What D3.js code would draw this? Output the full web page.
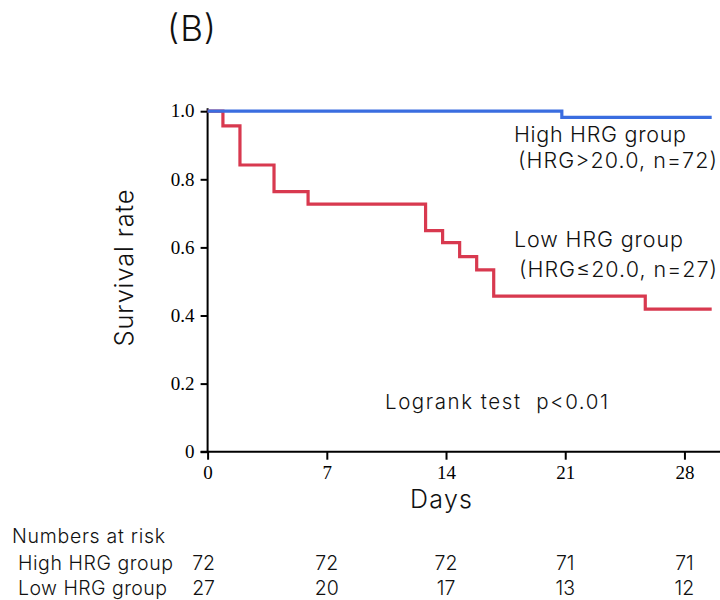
<!DOCTYPE html>
<html>
<head>
<meta charset="utf-8">
<script src="https://cdn.jsdelivr.net/npm/d3@7/dist/d3.min.js"></script>
<style>
  html, body { margin: 0; padding: 0; background: #fff; }
  svg { display: block; }
  .sans { font-family: Inter, "Open Sans", "Noto Sans", sans-serif; font-weight: 300; white-space: pre; }
  .serif { font-family: "Liberation Serif", "DejaVu Serif", serif; }
</style>
</head>
<body>
<script>
// ---- data ----
const xTicks = [0, 7, 14, 21, 28];
const yTicks = [0, 0.2, 0.4, 0.6, 0.8, 1.0];
const endDay = 29.6;

const highTimes = [0, 20.8];
const highSurv = [1.0, 0.982];

const lowTimes = [0, 0.9, 1.9, 3.9, 5.9, 12.8, 13.8, 14.8, 15.8, 16.8, 25.7];
const lowSurv = [1.0, 0.957, 0.842, 0.764, 0.727, 0.649, 0.614, 0.573, 0.534, 0.457, 0.419];

const riskDays = [0, 7, 14, 21, 28];
const riskGroups = ["High HRG group", "Low HRG group"];
const riskHigh = [72, 72, 72, 71, 71];
const riskLow = [27, 20, 17, 13, 12];

// ---- layout ----
const W = 720, H = 600;
const svg = d3.select("body").append("svg").attr("width", W).attr("height", H);

const x = d3.scaleLinear().domain([0, 30]).range([207.6, 718.5]);
const y = d3.scaleLinear().domain([0, 1]).range([451.7, 111.2]);

const red = "#d8394f", blue = "#3a6de0";

// axes
const yAxis = d3.axisLeft(y).tickValues(yTicks).tickSize(7).tickPadding(6)
  .tickFormat(d => d === 0 ? "0" : d.toFixed(1));
const gy = svg.append("g").attr("transform", `translate(${x(0)},0)`).call(yAxis);
gy.select(".domain").remove();
gy.selectAll(".tick line").attr("stroke", "#000").attr("stroke-width", 2);
gy.selectAll(".tick text").attr("class", "serif").attr("font-size", 19).attr("fill", "#000")
  .attr("dy", "0.3em");

const xAxis = d3.axisBottom(x).tickValues(xTicks).tickSize(8).tickPadding(4);
const gx = svg.append("g").attr("transform", `translate(0,${y(0)})`).call(xAxis);
gx.select(".domain").remove();
gx.selectAll(".tick line").attr("stroke", "#000").attr("stroke-width", 2);
gx.selectAll(".tick text").attr("class", "serif").attr("font-size", 19).attr("fill", "#000")
  .attr("dy", "0.78em");

// axis lines
svg.append("line").attr("x1", x(0)).attr("x2", x(0)).attr("y1", y(1) - 3).attr("y2", y(0))
  .attr("stroke", "#000").attr("stroke-width", 2);
svg.append("line").attr("x1", x(0) - 7).attr("x2", W).attr("y1", y(0)).attr("y2", y(0))
  .attr("stroke", "#000").attr("stroke-width", 2);

// curves
const line = d3.line().x(d => x(d[0])).y(d => y(d[1])).curve(d3.curveStepAfter);
function pts(times, surv) {
  const p = times.map((t, i) => [t, surv[i]]);
  p.push([endDay, surv[surv.length - 1]]);
  return p;
}
svg.append("path").datum(pts(lowTimes, lowSurv)).attr("d", line)
  .attr("fill", "none").attr("stroke", red).attr("stroke-width", 3.2);
svg.append("path").datum(pts(highTimes, highSurv)).attr("d", line)
  .attr("fill", "none").attr("stroke", blue).attr("stroke-width", 3.2);

// texts
const t = (txt, px, py, size, len, anchor) => {
  const el = svg.append("text").attr("class", "sans")
    .attr("x", px).attr("y", py).attr("font-size", size).attr("fill", "#111")
    .attr("text-anchor", anchor || "start").text(txt);
  if (len) el.attr("textLength", len).attr("lengthAdjust", "spacing");
  return el;
};

t("(B)", 167, 41, 35, 49);
svg.append("text").attr("class", "sans").attr("font-size", 25.5).attr("fill", "#111")
  .attr("text-anchor", "middle").attr("textLength", 157).attr("lengthAdjust", "spacing")
  .attr("transform", "translate(133,268) rotate(-90)").text("Survival rate");
t("Days", 441, 508, 25, 62, "middle");

t("High HRG group", 514, 142, 21.5, 172);
t("(HRG>20.0, n=72)", 518, 168, 21.5, 199);
t("Low HRG group", 514, 247, 21.5, 169);
t("(HRG\u226420.0, n=27)", 519, 277, 21.5, 198);
t("Logrank test  p<0.01", 385, 409, 20.5, 223);

// risk table
t("Numbers at risk", 12, 543, 19.5, 153);
const rows = [riskHigh, riskLow];
const rowY = [570, 595];
const rowLen = [155, 149];
riskGroups.forEach((g, i) => t(g, 18, rowY[i], 19.5, rowLen[i]));
rows.forEach((vals, i) => {
  svg.append("g").selectAll("text").data(vals).join("text")
    .attr("class", "sans").attr("font-size", 19.5).attr("fill", "#111")
    .attr("text-anchor", "middle")
    .attr("x", (d, j) => x(riskDays[j]) - (j === 0 ? 4 : 0))
    .attr("y", rowY[i]).text(d => d);
});
</script>
</body>
</html>
